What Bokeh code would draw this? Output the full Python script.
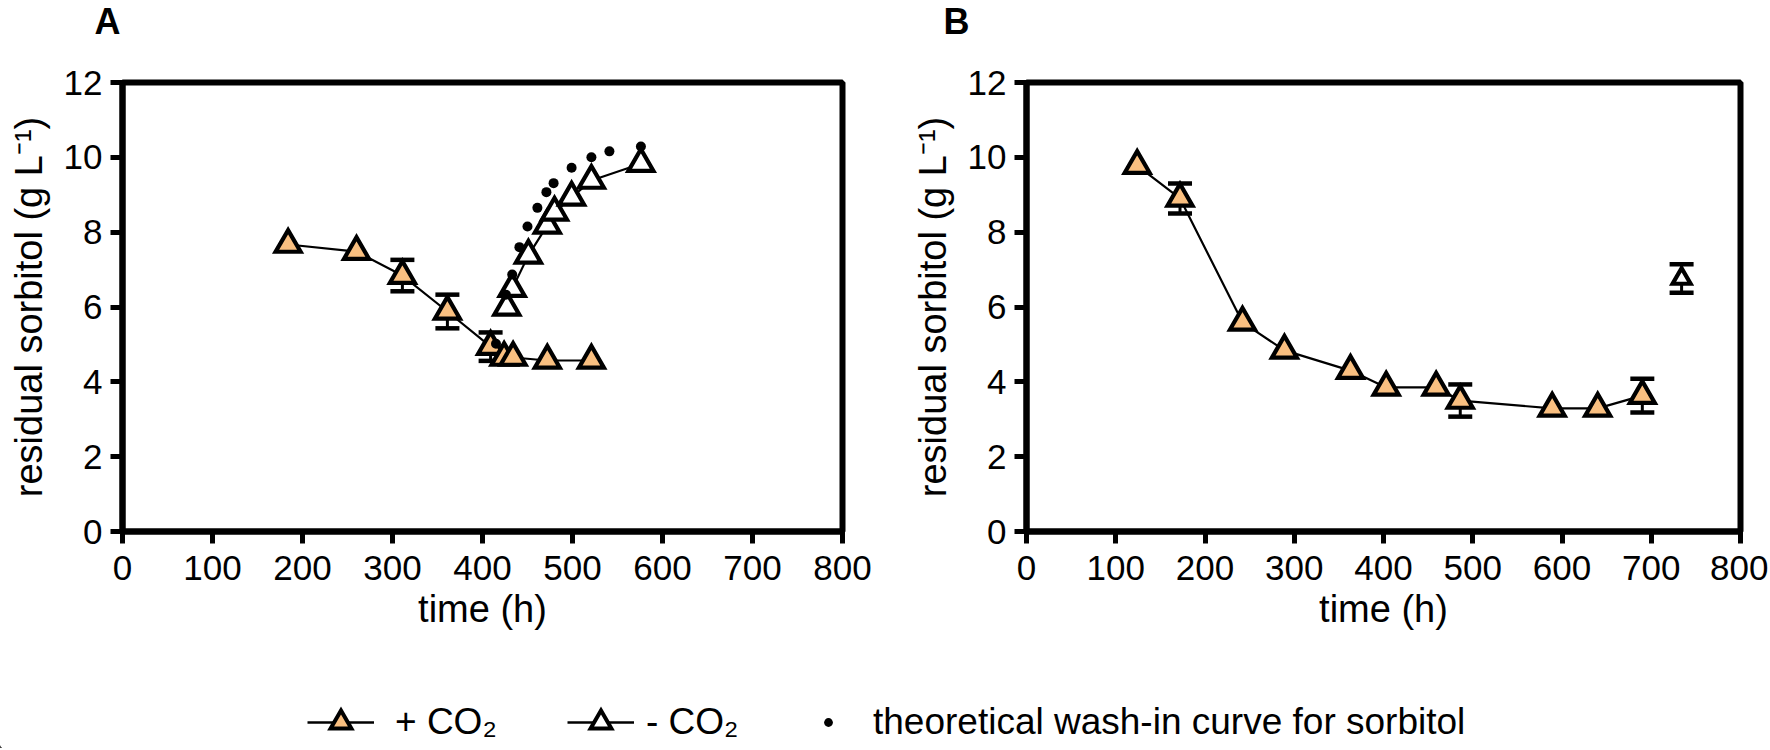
from bokeh.plotting import figure
from bokeh.layouts import row, column
from bokeh.models import Range1d, FixedTicker, Legend, LegendItem, Label
from bokeh.embed import file_html
from bokeh.resources import INLINE

FONT = "Liberation Sans"
ORANGE = "#F9BF80"

x_ticks = [0, 100, 200, 300, 400, 500, 600, 700, 800]
y_ticks = [0, 2, 4, 6, 8, 10, 12]

# Panel A: + CO2
a_plus_t = [184, 260, 311, 361, 409, 424, 434, 472, 521]
a_plus_y = [7.67, 7.48, 6.84, 5.88, 4.94, 4.65, 4.65, 4.57, 4.57]
a_plus_err = [0, 0, 0.42, 0.45, 0.38, 0, 0, 0, 0]
# Panel A: - CO2
a_minus_t = [427, 433, 451, 472, 480, 499, 521, 576]
a_minus_y = [5.99, 6.49, 7.38, 8.18, 8.53, 8.93, 9.38, 9.83]
a_minus_err = [0, 0, 0, 0, 0, 0, 0, 0]
# Panel A: theoretical wash-in curve
a_wash_t = [415, 426, 433, 441, 450, 461, 471, 479, 499, 521, 541, 576]
a_wash_y = [5.02, 6.33, 6.87, 7.60, 8.15, 8.65, 9.07, 9.31, 9.72, 10.0, 10.16, 10.29]

# Panel B: + CO2
b_plus_t = [124, 172, 242, 289, 363, 403, 459, 486, 589, 640, 690]
b_plus_y = [9.78, 8.90, 5.59, 4.84, 4.30, 3.85, 3.85, 3.50, 3.29, 3.29, 3.63]
b_plus_err = [0, 0.40, 0, 0, 0, 0, 0, 0.43, 0, 0, 0.45]
# Panel B: - CO2
b_minus_t = [734]
b_minus_y = [6.76]
b_minus_err = [0.38]

labels = ["+ CO\u2082", "- CO\u2082", "theoretical wash-in curve for sorbitol"]
panel_letters = ["A", "B"]

W = 1768
TOP_H = 40
H = 620
LEG_H = 88
FRAME_TOP = 82 - TOP_H
FRAME_H = 449


def strip(height):
    s = figure(width=W, height=height, x_range=Range1d(0, W), y_range=Range1d(0, height),
               x_axis_type=None, y_axis_type=None, output_backend="svg",
               toolbar_location=None, min_border=0)
    s.xgrid.visible = False
    s.ygrid.visible = False
    s.outline_line_color = None
    s.background_fill_color = "white"
    s.border_fill_color = "white"
    return s


def make_panel(width, left, right):
    p = figure(width=width, height=H, x_range=Range1d(0, 800), y_range=Range1d(0, 12),
               output_backend="svg", toolbar_location=None,
               min_border_left=left, min_border_right=right,
               min_border_top=FRAME_TOP, min_border_bottom=H - FRAME_TOP - FRAME_H)
    p.background_fill_color = "white"
    p.border_fill_color = "white"
    p.xgrid.visible = False
    p.ygrid.visible = False
    p.outline_line_color = "black"
    p.outline_line_width = 6
    p.outline_line_alpha = 1
    for ax in (p.xaxis[0], p.yaxis[0]):
        ax.axis_line_width = 6
        ax.axis_line_color = "black"
        ax.major_tick_line_width = 5
        ax.major_tick_line_color = "black"
        ax.major_tick_in = 0
        ax.major_tick_out = 12
        ax.minor_tick_line_color = None
        ax.major_label_text_font = FONT
        ax.major_label_text_font_size = "35px"
        ax.major_label_text_color = "black"
        ax.axis_label_text_font = FONT
        ax.axis_label_text_font_size = "38px"
        ax.axis_label_text_font_style = "normal"
        ax.axis_label_text_color = "black"
    p.xaxis.ticker = FixedTicker(ticks=x_ticks)
    p.yaxis.ticker = FixedTicker(ticks=y_ticks)
    p.xaxis.major_label_standoff = 12
    p.yaxis.major_label_standoff = 8
    p.xaxis.axis_label_standoff = 5
    p.yaxis.axis_label_standoff = 11
    p.xaxis.axis_label = "time (h)"
    p.yaxis.axis_label = "residual sorbitol (g L\u207b\u00b9)"
    return p


def draw_series(p, t, y, err, fill, size, with_line=True):
    if with_line and len(t) > 1:
        p.line(t, y, line_color="black", line_width=2.2)
    xs = [ti for ti, e in zip(t, err) if e > 0]
    lo = [yi - e for yi, e in zip(y, err) if e > 0]
    hi = [yi + e for yi, e in zip(y, err) if e > 0]
    if xs:
        p.segment(x0=xs, y0=lo, x1=xs, y1=hi, line_color="black", line_width=3)
        p.scatter(x=xs + xs, y=hi + lo, marker="dash", size=24, line_color="black",
                  line_width=4.5, line_cap="butt")
    p.scatter(t, y, marker="triangle", size=size, fill_color=fill,
              line_color="black", line_width=4.2, line_join="miter")


# top strip with the panel letters
top = strip(TOP_H)
for letter, lx in zip(panel_letters, [94, 943]):
    top.add_layout(Label(x=lx, y=TOP_H, text=letter, text_baseline="top", text_align="left",
                         text_font=FONT, text_font_size="36px", text_font_style="bold",
                         text_color="black"))

pA = make_panel(908, 122, 66)
draw_series(pA, a_plus_t, a_plus_y, a_plus_err, ORANGE, 25)
draw_series(pA, a_minus_t, a_minus_y, a_minus_err, "white", 25)
pA.scatter(a_wash_t, a_wash_y, marker="circle", size=10, fill_color="black", line_color=None)

pB = make_panel(860, 112, 28)
draw_series(pB, b_plus_t, b_plus_y, b_plus_err, ORANGE, 25)
draw_series(pB, b_minus_t, b_minus_y, b_minus_err, "white", 18, with_line=False)

# legend strip
lf = strip(LEG_H)
r1l = lf.line([-5, -6], [-5, -6], line_color="black", line_width=2.5)
r1s = lf.scatter([-5], [-5], marker="triangle", size=21, fill_color=ORANGE, line_color="black",
                 line_width=4, line_join="miter")
r2l = lf.line([-5, -6], [-5, -6], line_color="black", line_width=2.5)
r2s = lf.scatter([-5], [-5], marker="triangle", size=21, fill_color="white", line_color="black",
                 line_width=4, line_join="miter")
r3s = lf.scatter([-5], [-5], marker="circle", size=9, fill_color="black", line_color=None)

GH = 52
yloc = (TOP_H + H + LEG_H - 722) - GH // 2


def add_leg(items, x, gw, standoff):
    leg = Legend(items=items, location=(x, yloc), glyph_width=gw, glyph_height=GH,
                 label_standoff=standoff, padding=0, margin=0, spacing=0,
                 border_line_color=None, background_fill_alpha=0,
                 label_text_font=FONT, label_text_font_size="37px", label_text_color="black")
    lf.add_layout(leg)


add_leg([LegendItem(label=labels[0], renderers=[r1l, r1s])], 307, 67, 21)
add_leg([LegendItem(label=labels[1], renderers=[r2l, r2s])], 567, 67, 12)
add_leg([LegendItem(label=labels[2], renderers=[r3s])], 817, 22, 34)

layout = column(top, row(pA, pB), lf)
open("out.html", "w").write(file_html(layout, INLINE))
